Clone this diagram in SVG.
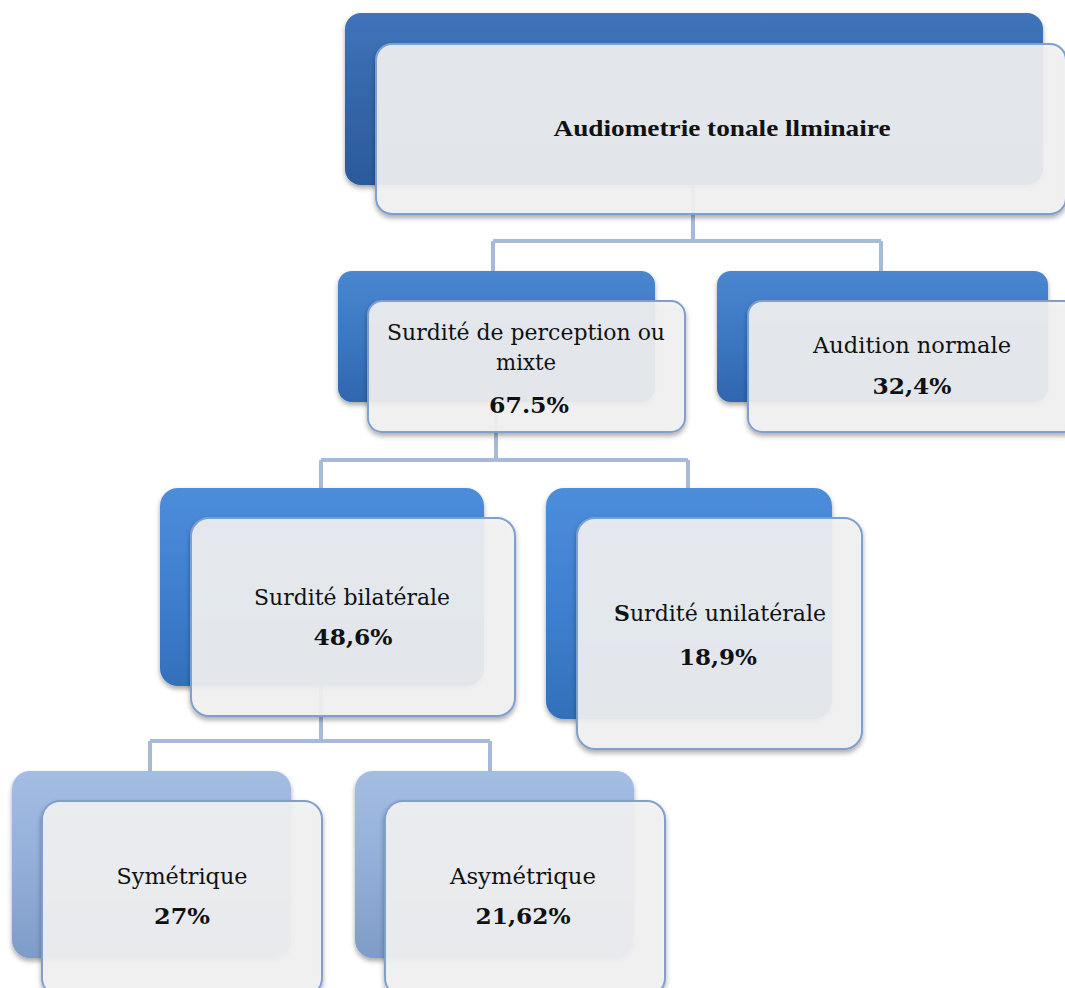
<svg xmlns="http://www.w3.org/2000/svg" width="1065" height="988" viewBox="0 0 1065 988">
  <defs>
    <linearGradient id="gTop" x1="0" y1="0" x2="0" y2="1">
      <stop offset="0" stop-color="#3f74bb"/>
      <stop offset="0.5" stop-color="#3466a8"/>
      <stop offset="1" stop-color="#2b5a99"/>
    </linearGradient>
    <linearGradient id="gMid" x1="0" y1="0" x2="0" y2="1">
      <stop offset="0" stop-color="#4a86d0"/>
      <stop offset="0.5" stop-color="#3c78c2"/>
      <stop offset="1" stop-color="#2f66ae"/>
    </linearGradient>
    <linearGradient id="gLow" x1="0" y1="0" x2="0" y2="1">
      <stop offset="0" stop-color="#4d8ddb"/>
      <stop offset="0.5" stop-color="#3f80cf"/>
      <stop offset="1" stop-color="#3270bb"/>
    </linearGradient>
    <linearGradient id="gLight" x1="0" y1="0" x2="0" y2="1">
      <stop offset="0" stop-color="#a4bde3"/>
      <stop offset="0.5" stop-color="#93afd9"/>
      <stop offset="1" stop-color="#7f9cc8"/>
    </linearGradient>
    <filter id="shadow" x="-5%" y="-5%" width="112%" height="115%">
      <feDropShadow dx="0" dy="3" stdDeviation="2.5" flood-color="#000" flood-opacity="0.35"/>
    </filter>
  </defs>
  <style>
    .back { filter: url(#shadow); }
    .front { fill: #f3f3f3; fill-opacity: 0.9; stroke: #7f9fcf; stroke-width: 2; filter: url(#shadow); }
    .conn { fill: none; stroke: #a7bbd8; stroke-width: 4; }
    .t { font-family: "DejaVu Serif", "Liberation Serif", serif; font-size: 22px; fill: #111; text-anchor: middle; }
    .b { font-weight: bold; }
    .title { font-family: "Liberation Serif", serif; font-size: 23px; font-weight: bold; fill: #111; text-anchor: middle; }
  </style>
  <rect width="1065" height="988" fill="#ffffff"/>

  <!-- tree connectors -->
  <g id="connectors">
    <path class="conn" d="M693 185 V241 M493 241 H881 M493 241 V272 M881 241 V272"/>
    <path class="conn" d="M496 402 V460 M321 460 H688 M321 460 V489 M688 460 V489"/>
    <path class="conn" d="M321 686 V741 M150 741 H490 M150 741 V772 M490 741 V772"/>
  </g>

  <!-- root -->
  <g id="node-root">
    <rect class="back" x="345" y="13" width="698" height="172" rx="16" fill="url(#gTop)"/>
    <rect class="front" x="376" y="44" width="690" height="170" rx="16"/>
    <text class="title" x="722" y="136" textLength="337" lengthAdjust="spacingAndGlyphs">Audiometrie tonale llminaire</text>
  </g>

  <!-- level 2 -->
  <g id="node-perception">
    <rect class="back" x="338" y="271" width="317" height="131" rx="14" fill="url(#gMid)"/>
    <rect class="front" x="368" y="301" width="317" height="131" rx="14"/>
    <text class="t" x="526" y="340" textLength="278" lengthAdjust="spacingAndGlyphs">Surdité de perception ou</text>
    <text class="t" x="526" y="370" textLength="60" lengthAdjust="spacingAndGlyphs">mixte</text>
    <text class="t b" x="529" y="413" textLength="80" lengthAdjust="spacingAndGlyphs">67.5%</text>
  </g>

  <g id="node-normale">
    <rect class="back" x="717" y="271" width="331" height="131" rx="14" fill="url(#gMid)"/>
    <rect class="front" x="748" y="301" width="330" height="131" rx="14"/>
    <text class="t" x="912" y="353" textLength="198" lengthAdjust="spacingAndGlyphs">Audition normale</text>
    <text class="t b" x="912" y="394" textLength="79" lengthAdjust="spacingAndGlyphs">32,4%</text>
  </g>

  <!-- level 3 -->
  <g id="node-bilaterale">
    <rect class="back" x="160" y="488" width="324" height="198" rx="18" fill="url(#gLow)"/>
    <rect class="front" x="191" y="518" width="324" height="198" rx="18"/>
    <text class="t" x="352" y="605" textLength="196" lengthAdjust="spacingAndGlyphs">Surdité bilatérale</text>
    <text class="t b" x="353" y="645" textLength="79" lengthAdjust="spacingAndGlyphs">48,6%</text>
  </g>

  <g id="node-unilaterale">
    <rect class="back" x="546" y="488" width="286" height="231" rx="18" fill="url(#gLow)"/>
    <rect class="front" x="577" y="518" width="285" height="231" rx="18"/>
    <text class="t" x="720" y="621" textLength="212" lengthAdjust="spacingAndGlyphs"><tspan class="b">S</tspan>urdité unilatérale</text>
    <text class="t b" x="718" y="665" textLength="78" lengthAdjust="spacingAndGlyphs">18,9%</text>
  </g>

  <!-- level 4 -->
  <g id="node-symetrique">
    <rect class="back" x="12" y="771" width="279" height="187" rx="18" fill="url(#gLight)"/>
    <rect class="front" x="42" y="801" width="280" height="195" rx="18"/>
    <text class="t" x="182" y="884" textLength="131" lengthAdjust="spacingAndGlyphs">Symétrique</text>
    <text class="t b" x="182" y="924" textLength="56" lengthAdjust="spacingAndGlyphs">27%</text>
  </g>

  <g id="node-asymetrique">
    <rect class="back" x="355" y="771" width="279" height="187" rx="18" fill="url(#gLight)"/>
    <rect class="front" x="385" y="801" width="280" height="195" rx="18"/>
    <text class="t" x="523" y="884" textLength="146" lengthAdjust="spacingAndGlyphs">Asymétrique</text>
    <text class="t b" x="523" y="924" textLength="95" lengthAdjust="spacingAndGlyphs">21,62%</text>
  </g>
</svg>
